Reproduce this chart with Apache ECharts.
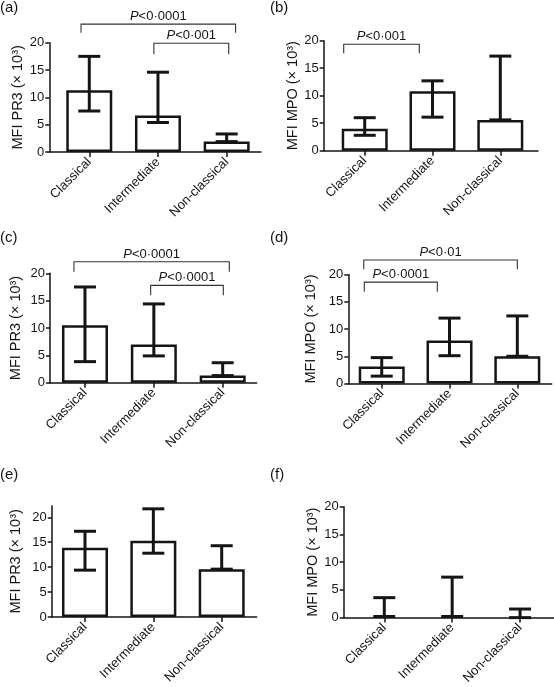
<!DOCTYPE html>
<html><head><meta charset="utf-8">
<script src="https://cdn.jsdelivr.net/npm/echarts@6/dist/echarts.min.js"></script>
<style>html,body{margin:0;padding:0;background:#fff}#c{width:554px;height:687px}</style>
</head><body><div id="c"></div>
<script>
// ---------- data ----------
const categories = ['Classical', 'Intermediate', 'Non-classical'];
const yTicks = [0, 5, 10, 15, 20];

const aMean = [11.3, 6.7, 1.9];
const aLow  = [7.5, 5.4, 1.9];
const aHigh = [17.5, 14.6, 3.3];
const aBrackets = [[-0.12, 2.13, 23.4, 21.8], [0.94, 2.03, 19.9, 17.9]];
const aBracketText = ['P<0·0001', 'P<0·001'];

const bMean = [4.0, 10.8, 5.6];
const bLow  = [2.8, 6.1, 5.6];
const bHigh = [6.0, 12.7, 17.2];
const bBrackets = [[-0.31, 0.805, 19.35, 17.7]];
const bBracketText = ['P<0·001'];

const cMean = [10.5, 7.0, 1.3];
const cLow  = [3.85, 4.9, 1.3];
const cHigh = [17.5, 14.4, 3.65];
const cBrackets = [[-0.16, 2.096, 22.1, 20.3], [0.954, 2.009, 17.8, 16.0]];
const cBracketText = ['P<0·0001', 'P<0·0001'];

const dMean = [3.1, 7.9, 5.0];
const dLow  = [1.35, 5.1, 5.0];
const dHigh = [4.75, 12.0, 12.4];
const dBrackets = [[-0.265, 2.0, 22.66, 20.97], [-0.257, 0.82, 18.6, 16.85]];
const dBracketText = ['P<0·01', 'P<0·0001'];

const eMean = [13.9, 15.3, 9.6];
const eLow  = [9.4, 12.8, 9.6];
const eHigh = [17.2, 21.7, 14.3];
const eBrackets = [];
const eBracketText = [];

const fMean = [0, 0, 0];
const fLow  = [0.2, 0.2, 0];
const fHigh = [3.6, 7.3, 1.55];
const fBrackets = [];
const fBracketText = [];

// ---------- layout ----------
const FONT = "'Liberation Sans', Arial, Helvetica, sans-serif";
const INK = '#151515';
const panels = [
  {tag:'(a)', tx:0,   ty:0,   yName:'MFI PR3 (× 10³)', mean:aMean, low:aLow, high:aHigh, br:aBrackets, brText:aBracketText,
   grid:{left:49.3, top:42.7, width:211.7, height:109.3}, xr:[-0.582, 2.5], ymax:20, gap:24},
  {tag:'(b)', tx:270, ty:0,   yName:'MFI MPO (× 10³)', mean:bMean, low:bLow, high:bHigh, br:bBrackets, brText:bBracketText,
   grid:{left:323.7, top:40.7, width:214.3, height:110}, xr:[-0.605, 2.556], ymax:20, gap:23},
  {tag:'(c)', tx:0,   ty:230, yName:'MFI PR3 (× 10³)', mean:cMean, low:cLow, high:cHigh, br:cBrackets, brText:cBracketText,
   grid:{left:50, top:273.3, width:206.7, height:109.4}, xr:[-0.508, 2.494], ymax:20, gap:27},
  {tag:'(d)', tx:270, ty:230, yName:'MFI MPO (× 10³)', mean:dMean, low:dLow, high:dHigh, br:dBrackets, brText:dBracketText,
   grid:{left:348.3, top:274.5, width:203.4, height:109}, xr:[-0.493, 2.507], ymax:20, gap:30},
  {tag:'(e)', tx:0,   ty:467, yName:'MFI PR3 (× 10³)', mean:eMean, low:eLow, high:eHigh, br:eBrackets, brText:eBracketText,
   grid:{left:51.7, top:505.7, width:205, height:111.3}, xr:[-0.487, 2.512], ymax:22.33, gap:28},
  {tag:'(f)', tx:270, ty:467, yName:'MFI MPO (× 10³)', mean:fMean, low:fLow, high:fHigh, br:fBrackets, brText:fBracketText,
   grid:{left:343.7, top:506.7, width:210.3, height:111}, xr:[-0.598, 2.5], ymax:20, gap:21}
];

function errRender(params, api) {
  const x = api.value(0), lo = api.value(1), hi = api.value(2);
  const pLo = api.coord([x, lo]), pHi = api.coord([x, hi]);
  const hw = 11;
  const st = {stroke: INK, lineWidth: 3, fill: null};
  return {type: 'group', children: [
    {type: 'line', shape: {x1: pLo[0], y1: pLo[1], x2: pHi[0], y2: pHi[1]}, style: st},
    {type: 'line', shape: {x1: pHi[0] - hw, y1: pHi[1], x2: pHi[0] + hw, y2: pHi[1]}, style: st},
    {type: 'line', shape: {x1: pLo[0] - hw, y1: pLo[1], x2: pLo[0] + hw, y2: pLo[1]}, style: st}
  ]};
}

function makeBracketRender(texts) {
  return function (params, api) {
    const x1 = api.value(0), x2 = api.value(1), y = api.value(2), yl = api.value(3);
    const a = api.coord([x1, yl]), b = api.coord([x1, y]), c = api.coord([x2, y]), d = api.coord([x2, yl]);
    const t = texts[params.dataIndex].replace(/^P/, '{i|P}');
    return {type: 'group', children: [
      {type: 'polyline', shape: {points: [a, b, c, d]}, style: {stroke: '#333', lineWidth: 1.1, fill: null}},
      {type: 'text', x: (b[0] + c[0]) / 2, y: b[1] - 1, style: {
        text: t, fontSize: 13, fontFamily: FONT, fill: INK, align: 'center', verticalAlign: 'bottom',
        rich: {i: {fontStyle: 'italic', fontSize: 13, fontFamily: FONT, fill: INK}}
      }}
    ]};
  };
}

const grid = [], xAxis = [], yAxis = [], series = [], graphic = [];
panels.forEach((p, i) => {
  grid.push(Object.assign({containLabel: false}, p.grid));
  xAxis.push({
    type: 'value', gridIndex: i, min: p.xr[0], max: p.xr[1],
    axisLine: {show: true, onZero: false, lineStyle: {color: INK, width: 1.5}},
    axisTick: {show: true, customValues: [0, 1, 2], length: 5, lineStyle: {color: INK, width: 1.5}},
    axisLabel: {customValues: [0, 1, 2], formatter: v => categories[Math.round(v)], rotate: 45, margin: 8,
      fontSize: 13, color: INK, fontFamily: FONT},
    splitLine: {show: false}
  });
  yAxis.push({
    type: 'value', gridIndex: i, min: 0, max: p.ymax,
    axisLine: {show: true, onZero: false, lineStyle: {color: INK, width: 1.5}},
    axisTick: {show: true, customValues: yTicks, length: 4, lineStyle: {color: INK, width: 1.5}},
    axisLabel: {customValues: yTicks, margin: 5, fontSize: 13, color: INK, fontFamily: FONT},
    splitLine: {show: false},
    name: p.yName, nameLocation: 'middle', nameGap: p.gap,
    nameTextStyle: {fontSize: 14.5, color: INK, fontFamily: FONT}
  });
  series.push({
    type: 'bar', xAxisIndex: i, yAxisIndex: i, barWidth: 46, z: 2,
    data: p.mean.map((v, k) => [k, v]).filter(d => d[1] > 0),
    itemStyle: {color: '#fff', borderColor: INK, borderWidth: 2.5},
    emphasis: {disabled: true}
  });
  series.push({
    type: 'custom', xAxisIndex: i, yAxisIndex: i, z: 3, clip: false,
    data: p.mean.map((v, k) => [k, p.low[k], p.high[k]]),
    renderItem: errRender
  });
  if (p.br.length) {
    series.push({
      type: 'custom', xAxisIndex: i, yAxisIndex: i, z: 3, clip: false,
      data: p.br, renderItem: makeBracketRender(p.brText)
    });
  }
  graphic.push({type: 'text', left: p.tx, top: p.ty,
    style: {text: p.tag, fontSize: 15, fontFamily: FONT, fill: INK}});
});

const chart = echarts.init(document.getElementById('c'), null, {renderer: 'canvas'});
chart.setOption({
  animation: false, backgroundColor: '#fff',
  grid, xAxis, yAxis, series, graphic
});
</script></body></html>
